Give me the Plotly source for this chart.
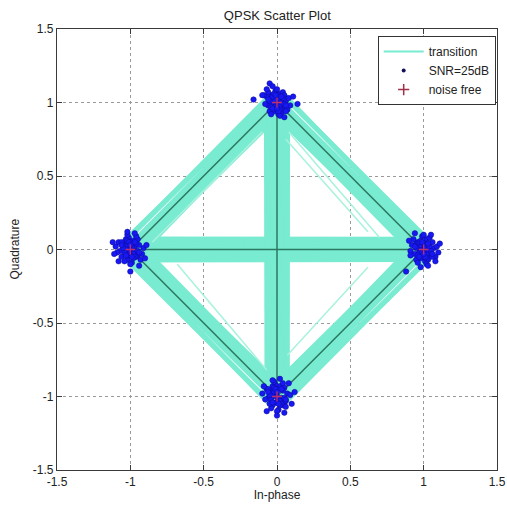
import plotly.graph_objects as go
import math

# ---- noise-free constellation (QPSK) ----
const_i = [1.0, 0.0, -1.0, 0.0]
const_q = [0.0, 1.0, 0.0, -1.0]

# ---- transitions between constellation points (indices into const) ----
edge_from = [0, 1, 2, 3]
edge_to = [1, 2, 3, 0]
cross_from = [2, 1]
cross_to = [0, 3]

# perpendicular deviation of the noisy transition trajectories (data units)
edge_dev_start = [-0.068, -0.050, -0.032, -0.012, 0.008, 0.028, 0.048, 0.068]
edge_dev_end = [-0.062, -0.070, -0.022, -0.004, 0.018, 0.038, 0.070, 0.056]
cross_dev_start = [-0.072, -0.052, -0.030, -0.010, 0.010, 0.030, 0.052, 0.072]
cross_dev_end = [-0.068, -0.056, -0.026, -0.006, 0.013, 0.034, 0.048, 0.070]

# a few stray trajectories visible inside the triangles
stray_i0 = [0.08, 0.06, -0.07, 0.07, -0.85]
stray_q0 = [0.80, 0.75, -0.82, -0.72, 0.05]
stray_i1 = [0.70, 0.62, -0.68, 0.62, -0.10]
stray_q1 = [0.08, 0.12, -0.10, -0.12, 0.80]

# ---- received symbols at SNR = 25 dB: offsets around each constellation point ----
right_di = [0.00, 0.03, -0.03, 0.05, -0.05, 0.02, -0.02, 0.07, -0.06, 0.04, -0.04, 0.01, -0.01, 0.08,
            -0.08, 0.03, -0.03, 0.06, -0.05, 0.00, 0.09, -0.09, 0.02, -0.02, 0.06, -0.07, 0.04, -0.04,
            0.00, 0.10, -0.10, 0.01, -0.12, -0.02, 0.11, -0.06, 0.05, 0.08, -0.09, 0.03,
            0.01, -0.01, 0.02, -0.02, 0.03, -0.03, 0.04, -0.04, 0.00, 0.02, -0.02, 0.05, -0.05, 0.01,
            -0.01, 0.03, -0.03, 0.06, -0.06, 0.00]
right_dq = [0.00, 0.03, -0.02, -0.04, 0.04, 0.07, -0.06, 0.01, -0.03, 0.08, 0.05, -0.08, 0.09, -0.05,
            0.03, -0.07, 0.01, 0.05, -0.07, 0.10, 0.02, -0.01, -0.10, 0.02, -0.05, 0.07, -0.02, -0.09,
            -0.05, -0.02, 0.06, 0.04, -0.15, -0.12, 0.04, 0.11, 0.10, -0.08, -0.04, -0.11,
            0.02, -0.02, -0.03, 0.03, 0.00, 0.05, 0.02, -0.04, 0.04, -0.06, 0.06, -0.01, 0.01, -0.05,
            0.05, 0.04, -0.05, -0.03, 0.02, -0.03]

top_di = [0.00, 0.03, -0.03, 0.05, -0.05, 0.02, -0.02, 0.06, -0.06, 0.04, -0.04, 0.01, -0.01, 0.07,
          -0.07, 0.03, -0.03, 0.05, -0.05, 0.00, 0.08, -0.08, 0.02, -0.02, 0.06, -0.06, 0.04, -0.04,
          0.00, 0.09, -0.09, 0.01, -0.05, -0.03, -0.10, -0.16, 0.14, 0.11, -0.07, 0.05,
          0.01, -0.01, 0.02, -0.02, 0.03, -0.03, 0.04, -0.04, 0.00, 0.02, -0.02, 0.05, -0.05, 0.01,
          -0.01, 0.03, -0.03, 0.06, -0.06, 0.00]
top_dq = [0.00, 0.02, -0.03, -0.04, 0.03, 0.06, -0.06, 0.01, -0.02, 0.07, 0.05, -0.08, 0.08, -0.05,
          0.04, -0.07, 0.00, 0.05, -0.06, 0.09, 0.03, -0.01, -0.09, 0.03, -0.06, 0.07, -0.02, -0.08,
          -0.05, -0.02, 0.05, 0.04, 0.13, 0.11, 0.05, 0.02, -0.01, 0.04, 0.09, -0.10,
          0.03, -0.03, -0.02, 0.02, 0.00, 0.04, 0.03, -0.03, 0.05, -0.05, 0.06, -0.01, 0.01, -0.06,
          0.05, 0.04, -0.04, -0.02, 0.02, -0.04]

left_di = [0.00, -0.03, 0.03, -0.05, 0.05, -0.02, 0.02, -0.07, 0.06, -0.04, 0.04, -0.01, 0.01, -0.08,
           0.08, -0.03, 0.03, -0.06, 0.05, 0.00, -0.09, 0.09, -0.02, 0.02, -0.06, 0.07, -0.04, 0.04,
           0.00, -0.10, 0.10, -0.01, -0.11, -0.02, 0.00, 0.11, -0.12, 0.06, -0.08, 0.03,
           -0.01, 0.01, -0.02, 0.02, -0.03, 0.03, -0.04, 0.04, 0.00, -0.02, 0.02, -0.05, 0.05, -0.01,
           0.01, -0.03, 0.03, -0.06, 0.06, 0.00]
left_dq = [0.00, -0.03, 0.02, 0.04, -0.04, -0.07, 0.06, -0.01, 0.03, -0.08, -0.05, 0.08, -0.09, 0.05,
           -0.03, 0.07, -0.01, -0.05, 0.07, -0.10, -0.02, 0.01, 0.10, -0.02, 0.05, -0.07, 0.02, 0.09,
           0.05, 0.02, -0.06, -0.04, -0.03, 0.12, -0.15, 0.03, 0.05, -0.11, -0.08, 0.11,
           -0.02, 0.02, 0.03, -0.03, 0.00, -0.05, -0.02, 0.04, -0.04, 0.06, -0.06, 0.01, -0.01, 0.05,
           -0.05, -0.04, 0.05, 0.03, -0.02, 0.03]

bottom_di = [0.00, -0.02, 0.03, -0.05, 0.05, -0.03, 0.02, -0.06, 0.07, -0.04, 0.04, -0.01, 0.01, -0.07,
             0.06, -0.03, 0.03, -0.05, 0.05, 0.00, -0.08, 0.09, -0.02, 0.02, -0.06, 0.06, -0.04, 0.04,
             0.00, -0.10, 0.10, -0.01, 0.02, 0.00, 0.05, -0.09, 0.12, -0.07, 0.08, -0.03,
             -0.01, 0.01, -0.02, 0.02, -0.03, 0.03, -0.04, 0.04, 0.00, -0.02, 0.02, -0.05, 0.05, -0.01,
             0.01, -0.03, 0.03, -0.06, 0.06, 0.00]
bottom_dq = [0.00, 0.03, -0.02, 0.04, -0.04, -0.06, 0.07, -0.01, 0.02, -0.08, -0.06, 0.08, -0.09, 0.05,
             -0.03, 0.07, -0.01, -0.05, 0.06, -0.10, -0.02, 0.01, 0.10, -0.03, 0.05, -0.07, 0.02, 0.09,
             0.05, 0.02, -0.05, -0.04, 0.12, -0.13, -0.11, 0.07, 0.03, -0.10, 0.09, 0.11,
             0.02, -0.02, 0.03, -0.03, 0.00, -0.05, -0.02, 0.04, -0.04, 0.06, -0.06, 0.01, -0.01, 0.05,
             -0.05, -0.04, 0.05, 0.03, -0.02, 0.03]

cluster_di = [right_di, top_di, left_di, bottom_di]
cluster_dq = [right_dq, top_dq, left_dq, bottom_dq]

tick_vals = [-1.5, -1.0, -0.5, 0.0, 0.5, 1.0, 1.5]
tick_text = ["-1.5", "-1", "-0.5", "0", "0.5", "1", "1.5"]

BAND = "#78ebd0"
BAND_LIGHT = "#a8f2de"
IDEAL = "#2b7760"
DOT = "#1818f4"
DOT_EDGE = "#0a0a90"
PLUS = "#c0306a"


def band_xy(frm, to, dev0, dev1):
    xs, ys = [], []
    for a, b in zip(frm, to):
        ax, ay, bx, by = const_i[a], const_q[a], const_i[b], const_q[b]
        L = math.hypot(bx - ax, by - ay)
        nx, ny = -(by - ay) / L, (bx - ax) / L
        for d0, d1 in zip(dev0, dev1):
            xs += [ax + nx * d0, bx + nx * d1, None]
            ys += [ay + ny * d0, by + ny * d1, None]
    return xs, ys


fig = go.Figure()

ex, ey = band_xy(edge_from, edge_to, edge_dev_start, edge_dev_end)
cx, cy = band_xy(cross_from, cross_to, cross_dev_start, cross_dev_end)
fig.add_trace(go.Scatter(x=ex + cx, y=ey + cy, mode="lines",
                         line=dict(color=BAND, width=5), showlegend=False, hoverinfo="skip"))

sx, sy = [], []
for a, b, c, d in zip(stray_i0, stray_q0, stray_i1, stray_q1):
    sx += [a, c, None]
    sy += [b, d, None]
fig.add_trace(go.Scatter(x=sx, y=sy, mode="lines",
                         line=dict(color=BAND_LIGHT, width=1.5), showlegend=False, hoverinfo="skip"))

# ideal (noise-free) transitions
ix, iy = [], []
for a, b in zip(edge_from + cross_from, edge_to + cross_to):
    ix += [const_i[a], const_i[b], None]
    iy += [const_q[a], const_q[b], None]
fig.add_trace(go.Scatter(x=ix, y=iy, mode="lines",
                         line=dict(color=IDEAL, width=1.5), showlegend=False, hoverinfo="skip"))

# received symbols
rx, ry = [], []
for k in range(4):
    rx += [const_i[k] + d for d in cluster_di[k]]
    ry += [const_q[k] + d for d in cluster_dq[k]]
fig.add_trace(go.Scatter(x=rx, y=ry, mode="markers",
                         marker=dict(color=DOT, size=5.5, line=dict(color=DOT_EDGE, width=0.5)),
                         showlegend=False))

fig.add_trace(go.Scatter(x=const_i, y=const_q, mode="markers",
                         marker=dict(symbol="cross-thin", size=7, line=dict(color=PLUS, width=1.3)),
                         showlegend=False))

# legend entries
fig.add_trace(go.Scatter(x=[None], y=[None], mode="lines", name="transition",
                         line=dict(color=BAND, width=2)))
fig.add_trace(go.Scatter(x=[None], y=[None], mode="markers", name="SNR=25dB",
                         marker=dict(color="#10105a", size=4)))
fig.add_trace(go.Scatter(x=[None], y=[None], mode="markers", name="noise free",
                         marker=dict(symbol="cross-thin", size=8, line=dict(color="#a03048", width=1.5))))

axis_common = dict(
    range=[-1.5, 1.5], tickmode="array", tickvals=tick_vals, ticktext=tick_text,
    showgrid=True, gridcolor="#9a9a9a", griddash="dot", gridwidth=1,
    zeroline=False, showline=True, linecolor="#3a3a3a", linewidth=1.2, mirror="ticks",
    ticks="inside", ticklen=5, tickcolor="#3a3a3a", automargin=False,
    tickfont=dict(size=12, color="#222222"),
)

fig.update_layout(
    width=507, height=507,
    margin=dict(l=57, r=10, t=29, b=37),
    paper_bgcolor="white", plot_bgcolor="white",
    font=dict(family="Liberation Sans, Arial, sans-serif", size=12, color="#222222"),
    title=dict(text="QPSK Scatter Plot", x=0.547, xanchor="center", y=0.970, yanchor="middle",
               font=dict(size=13, color="#222222"), automargin=False),
    xaxis=dict(axis_common, title=dict(text="In-phase", standoff=0, font=dict(size=12))),
    yaxis=dict(axis_common),
    annotations=[dict(text="Quadrature", xref="paper", yref="paper", x=0, y=0.5,
                      xanchor="center", yanchor="middle", xshift=-43, textangle=-90,
                      showarrow=False, font=dict(size=12, color="#222222"))],
    legend=dict(x=0.997, xanchor="right", y=0.984, yanchor="top", itemwidth=40,
                bgcolor="white", bordercolor="#333333", borderwidth=1,
                font=dict(size=12, color="#222222"), tracegroupgap=0),
    showlegend=True,
)

fig.write_html("out.html", config={"displayModeBar": False},
               post_script="document.body.style.margin='0';")
